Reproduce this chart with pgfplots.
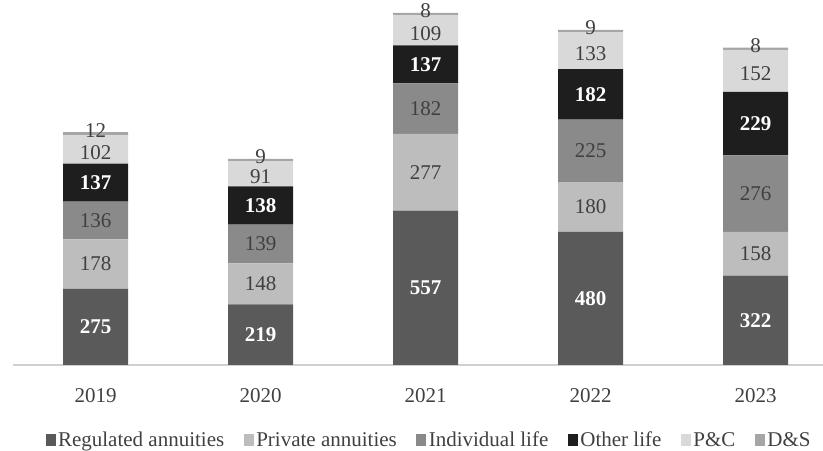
\documentclass[border=0pt]{standalone}
\usepackage{fontspec}
\setmainfont{Liberation Serif}
\usepackage{pgfplots}
\usepackage{pgfplotstable}
\pgfplotsset{compat=1.18}

\definecolor{cReg}{HTML}{5A5A5A}
\definecolor{cPriv}{HTML}{BDBDBD}
\definecolor{cInd}{HTML}{8A8A8A}
\definecolor{cOth}{HTML}{1E1E1E}
\definecolor{cPC}{HTML}{D9D9D9}
\definecolor{cDS}{HTML}{A6A6A6}
\definecolor{cTxt}{HTML}{404040}
\definecolor{cAxis}{HTML}{D0D0D0}

% Premiums by line of business, 2019-2023
\pgfplotstableread{
x reg priv ind oth pc ds
0 275 178 136 137 102 12
1 219 148 139 138 91 9
2 557 277 182 137 109 8
3 480 180 225 182 133 9
4 322 158 276 229 152 8
}\datatable

\pgfplotsset{
  % value label in the middle of its segment
  midlabel/.style={
    nodes near coords,
    every node near coord/.append style={anchor=center, #1},
  },
}

\begin{document}
\begin{tikzpicture}[font=\fontsize{21bp}{25bp}\selectfont]
\begin{axis}[
  name=ax,
  scale only axis,
  width=810bp,
  y=0.2772bp,
  xmin=-0.5, xmax=4.409,
  ymin=0, ymax=1316.7,
  enlargelimits=false,
  ybar stacked,
  bar width=65bp,
  axis y line=none,
  axis x line*=bottom,
  axis line style={draw=cAxis, line width=1.2bp, -},
  major tick length=0pt,
  xtick=data,
  xticklabels={2019,2020,2021,2022,2023},
  xticklabel style={text=cTxt, yshift=-20bp},
  /pgf/number format/assume math mode=true,
  legend columns=6,
  legend style={at={(0.514,0)}, anchor=center, yshift=-75bp, draw=none, fill=none,
    text=cTxt, inner sep=0pt,
    nodes={inner xsep=2.5bp},
    /tikz/every even column/.append style={column sep=17bp}},
  legend image code/.code={\fill[#1] (0bp,-6bp) rectangle (10bp,6bp);},
  every axis plot/.append style={draw=none},
]
\addplot[fill=cReg, midlabel={text=white, font=\fontsize{21bp}{25bp}\selectfont\bfseries}] table[x=x, y=reg] {\datatable};
\addlegendentry{Regulated annuities}
\addplot[fill=cPriv, midlabel={text=cTxt}] table[x=x, y=priv] {\datatable};
\addlegendentry{Private annuities}
\addplot[fill=cInd, midlabel={text=cTxt}] table[x=x, y=ind] {\datatable};
\addlegendentry{Individual life}
\addplot[fill=cOth, midlabel={text=white, font=\fontsize{21bp}{25bp}\selectfont\bfseries}] table[x=x, y=oth] {\datatable};
\addlegendentry{Other life}
\addplot[fill=cPC, midlabel={text=cTxt, inner sep=0pt, yshift=-3bp}] table[x=x, y=pc] {\datatable};
\addlegendentry{P\&C}
\addplot[fill=cDS, midlabel={text=cTxt, inner sep=0pt, yshift=3bp}] table[x=x, y=ds] {\datatable};
\addlegendentry{D\&S}
\end{axis}
\pgfresetboundingbox
\path ([xshift=-13bp, yshift=-86bp]ax.south west) rectangle (ax.north east);
\end{tikzpicture}
\end{document}
